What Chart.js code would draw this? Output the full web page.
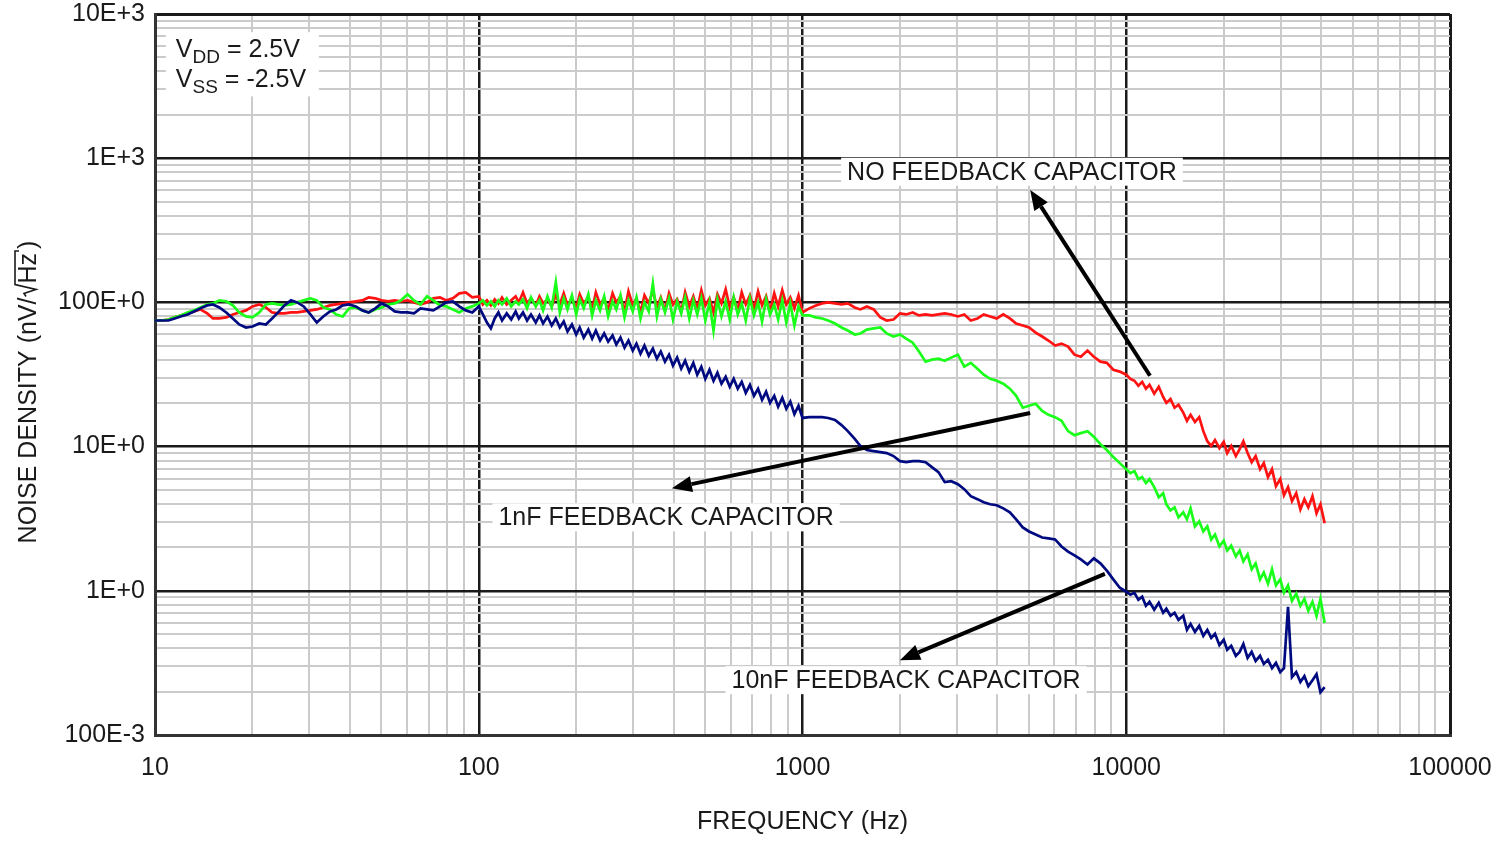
<!DOCTYPE html>
<html>
<head>
<meta charset="utf-8">
<script src="https://cdn.jsdelivr.net/npm/chart.js@4/dist/chart.umd.min.js"></script>
<style>
  html, body { margin: 0; padding: 0; background: #fff; }
  #wrap { width: 1510px; height: 841px; position: relative; }
</style>
</head>
<body>
<div id="wrap"><canvas id="noise-chart"></canvas></div>
<script>
// frequency points (Hz), shared by all three traces
var freqHz = [
  10, 10.5, 11, 11.5, 12, 12.6, 13.2, 13.8, 14.5, 15.1, 15.8, 16.6, 17.4, 18.2, 19.1, 20, 21, 22, 23, 24,
  25.1, 26.3, 27.5, 28.8, 30.2, 31.6, 33.1, 34.7, 36.3, 38, 39.8, 41.7, 43.7, 45.7, 47.9, 50.1, 52.5, 55, 57.5, 60.3,
  63.1, 66.1, 69.2, 72.4, 75.9, 79.4, 83.2, 87.1, 91.2, 95.5,
  100, 103, 106, 109, 112, 115, 118, 122, 126, 130, 133, 137, 141, 145, 150, 154, 158, 163, 168, 173,
  178, 183, 188, 194, 200, 205, 211, 218, 224, 230, 237, 244, 251, 259, 266, 274, 282, 290, 299, 307,
  316, 325, 335, 345, 355, 365, 376, 387, 398, 410, 422, 434, 447, 460, 473, 487, 501, 516, 531, 546,
  562, 579, 596, 613, 631, 649, 668, 688, 708, 729, 750, 772, 794, 818, 841, 866, 891, 917, 944, 972,
  1000, 1050, 1100, 1150, 1200, 1260, 1320, 1380, 1450, 1510, 1580, 1660, 1740, 1820, 1910, 2000, 2090, 2190, 2290, 2400,
  2510, 2630, 2750, 2880, 3020, 3160, 3310, 3470, 3630, 3800, 3980, 4170, 4370, 4570, 4790, 5010, 5250, 5500, 5750, 6030,
  6310, 6610, 6920, 7240, 7590, 7940, 8320, 8710, 9120, 9550,
  10000, 10300, 10600, 10900, 11200, 11500, 11800, 12200, 12600, 13000, 13300, 13700, 14100, 14500, 15000, 15400, 15800, 16300, 16800, 17300,
  17800, 18300, 18800, 19400, 20000, 20500, 21100, 21800, 22400, 23000, 23700, 24400, 25100, 25900, 26600, 27400, 28200, 29000, 29900, 30700,
  31600, 32500, 33500, 34500, 35500, 36500, 37600, 38700, 39800, 41000
];

// noise density, nV/rtHz
var noFeedback = [
  74.9, 74.9, 76.1, 78.7, 81.2, 83.9, 86.6, 89.4, 83.9, 77.4, 77.4, 78.7, 82.5, 85.2, 88.0, 93.8, 96.8, 92.3, 85.2, 83.9,
  83.9, 85.2, 85.2, 86.6, 88.0, 89.4, 92.3, 95.3, 96.8, 98.4, 100, 101.6, 103.3, 108.3, 106.7, 103.3, 101.6, 103.3, 101.6, 103.3,
  100, 96.8, 100, 106.7, 108.3, 103.3, 106.7, 115.6, 117.4, 108.3,
  110.1, 96.8, 103.3, 95.3, 105.0, 98.4, 108.3, 96.8, 103.3, 110.1, 100, 117.4, 98.4, 106.7, 95.3, 110.1, 98.4, 105.0, 93.8, 111.9,
  96.8, 115.6, 95.3, 106.7, 90.9, 113.7, 98.4, 108.3, 89.4, 117.4, 96.8, 106.7, 88.0, 115.6, 100, 110.1, 86.6, 119.3, 95.3, 106.7,
  85.2, 111.9, 98.4, 121.3, 92.3, 108.3, 88.0, 115.6, 96.8, 105.0, 86.6, 117.4, 93.8, 110.1, 89.4, 121.3, 95.3, 106.7, 85.2, 113.7,
  98.4, 123.2, 92.3, 108.3, 88.0, 117.4, 96.8, 111.9, 89.4, 119.3, 95.3, 110.1, 86.6, 115.6, 93.8, 121.3, 96.8, 108.3, 90.9, 111.9,
  85.2, 90.9, 95.3, 98.4, 100, 98.4, 96.8, 98.4, 92.3, 89.4, 93.8, 89.4, 78.7, 74.9, 76.1, 83.9, 82.5, 85.2, 81.2, 82.5,
  81.2, 82.5, 83.9, 82.5, 79.9, 82.5, 74.9, 77.4, 82.5, 79.9, 77.4, 82.5, 77.4, 71.4, 69.2, 67.0, 61.8, 58.0, 54.4, 50.2,
  51.8, 49.4, 43.4, 42.0, 46.3, 42.0, 38.8, 38.1, 34.1, 33.1,
  31.5, 29.5, 28.6, 26.4, 28.1, 25.2, 26.8, 23.3, 26.0, 22.1, 20.1, 21.4, 18.6, 19.5, 17.2, 15.1, 16.6, 14.8, 16.0, 12.8,
  10.9, 10.1, 11.1, 9.77, 10.8, 9.02, 10.1, 8.60, 9.61, 10.9, 9.02, 7.80, 8.60, 6.97, 7.68, 6.14, 6.97, 5.31, 5.95, 4.60,
  5.23, 4.18, 4.75, 3.67, 4.32, 3.79, 4.53, 3.45, 3.98, 2.94
];

var cap1nF = [
  74.9, 74.9, 76.1, 78.7, 81.2, 85.2, 88.0, 92.3, 96.8, 98.4, 103.3, 101.6, 95.3, 85.2, 79.9, 78.7, 85.2, 96.8, 98.4, 96.8,
  95.3, 96.8, 100, 103.3, 106.7, 103.3, 92.3, 89.4, 82.5, 79.9, 90.9, 92.3, 88.0, 85.2, 89.4, 92.3, 96.8, 98.4, 103.3, 113.7,
  103.3, 96.8, 110.1, 103.3, 95.3, 93.8, 89.4, 85.2, 90.9, 93.8,
  98.4, 103.3, 95.3, 101.6, 93.8, 103.3, 96.8, 106.7, 93.8, 101.6, 96.8, 105.0, 90.9, 108.3, 93.8, 103.3, 88.0, 110.1, 92.3, 138,
  85.2, 106.7, 89.4, 111.9, 82.5, 105.0, 90.9, 113.7, 81.2, 103.3, 88.0, 110.1, 79.9, 101.6, 89.4, 111.9, 78.7, 103.3, 86.6, 108.3,
  77.4, 100, 86.6, 135, 79.9, 105.0, 85.2, 106.7, 76.1, 101.6, 83.9, 108.3, 77.4, 103.3, 82.5, 106.7, 74.9, 100, 63.8, 105.0,
  79.9, 101.6, 76.1, 108.3, 82.5, 98.4, 74.9, 106.7, 81.2, 100, 73.7, 105.0, 82.5, 96.8, 76.1, 103.3, 72.5, 98.4, 69.2, 93.8,
  81.2, 81.2, 78.7, 77.4, 74.9, 71.4, 67.0, 63.8, 59.9, 60.9, 64.8, 66.0, 67.0, 60.9, 58.0, 59.9, 56.1, 52.6, 45.6, 38.8,
  40.1, 40.7, 39.4, 41.4, 43.4, 35.8, 38.1, 34.7, 31.5, 29.5, 28.6, 27.3, 25.2, 22.5, 18.6, 19.2, 19.8, 17.7, 16.6, 16.0,
  15.1, 12.8, 12.0, 12.4, 12.8, 11.7, 10.4, 9.46, 8.46, 7.68,
  6.97, 6.54, 6.76, 5.95, 6.14, 5.58, 5.95, 5.23, 4.46, 4.75, 3.98, 3.61, 3.79, 3.23, 3.50, 3.13, 3.73, 2.80, 3.03, 2.58,
  2.80, 2.27, 2.46, 2.03, 2.23, 1.90, 2.06, 1.73, 1.90, 1.60, 1.79, 1.41, 1.55, 1.20, 1.34, 1.12, 1.41, 1.09, 1.20, 0.969,
  1.09, 0.853, 0.954, 0.787, 0.880, 0.727, 0.839, 0.671, 0.880, 0.599
];

var cap10nF = [
  74.9, 74.9, 74.9, 77.4, 79.9, 82.5, 86.6, 90.9, 95.3, 96.8, 92.3, 85.2, 77.4, 70.3, 67.0, 68.1, 71.4, 70.3, 77.4, 85.2,
  95.3, 103.3, 100, 93.8, 82.5, 72.5, 79.9, 86.6, 89.4, 95.3, 96.8, 93.8, 88.0, 85.2, 90.9, 98.4, 93.8, 86.6, 85.2, 85.2,
  83.9, 90.9, 89.4, 88.0, 93.8, 100, 101.6, 93.8, 88.0, 85.2,
  93.8, 82.5, 72.5, 66.0, 77.4, 85.2, 74.9, 83.9, 76.1, 86.6, 77.4, 85.2, 74.9, 82.5, 72.5, 81.2, 71.4, 79.9, 69.2, 77.4,
  67.0, 73.7, 62.8, 70.3, 59.9, 67.0, 57.0, 64.8, 56.1, 63.8, 54.4, 60.9, 53.5, 58.9, 51.0, 57.0, 48.6, 54.4, 46.3, 51.8,
  44.1, 50.2, 42.7, 47.8, 40.7, 45.6, 38.8, 43.4, 36.4, 41.4, 34.7, 39.4, 33.1, 38.1, 31.5, 35.8, 29.5, 34.1, 28.6, 32.5,
  27.3, 30.5, 26.0, 29.5, 25.2, 28.1, 23.6, 26.8, 22.5, 25.2, 21.1, 24.0, 20.1, 22.5, 18.9, 21.8, 18.3, 20.5, 16.8, 19.2,
  15.8, 16.0, 16.0, 16.0, 15.8, 15.3, 14.1, 12.8, 11.3, 10.1, 9.46, 9.31, 9.16, 9.02, 8.60, 7.93, 7.80, 7.93, 7.93, 7.80,
  7.20, 6.65, 5.67, 5.76, 5.49, 5.07, 4.53, 4.32, 4.11, 3.98, 3.92, 3.73, 3.50, 3.13, 2.75, 2.58, 2.46, 2.34, 2.31, 2.27,
  2.03, 1.87, 1.76, 1.65, 1.52, 1.68, 1.55, 1.38, 1.20, 1.05,
  0.985, 0.939, 0.969, 0.866, 0.909, 0.787, 0.839, 0.739, 0.825, 0.704, 0.751, 0.671, 0.704, 0.629, 0.671, 0.536, 0.590, 0.519, 0.571, 0.487,
  0.536, 0.471, 0.503, 0.420, 0.457, 0.390, 0.415, 0.354, 0.377, 0.427, 0.342, 0.377, 0.326, 0.354, 0.311, 0.332, 0.291, 0.316, 0.273, 0.291,
  0.775, 0.252, 0.273, 0.233, 0.256, 0.218, 0.240, 0.264, 0.198, 0.215
];

// axes
var xGrid = [10, 20, 30, 40, 50, 60, 70, 80, 90, 100, 200, 300, 400, 500, 600, 700, 800, 900,
  1000, 2000, 3000, 4000, 5000, 6000, 7000, 8000, 9000, 10000, 20000, 30000, 40000, 50000, 60000, 70000, 80000, 90000, 100000];
var yGrid = [0.1, 0.2, 0.3, 0.4, 0.5, 0.6, 0.7, 0.8, 0.9, 1, 2, 3, 4, 5, 6, 7, 8, 9,
  10, 20, 30, 40, 50, 60, 70, 80, 90, 100, 200, 300, 400, 500, 600, 700, 800, 900,
  1000, 2000, 3000, 4000, 5000, 6000, 7000, 8000, 9000, 10000];
var xTickValues = [10, 100, 1000, 10000, 100000];
var xTickLabels = ['10', '100', '1000', '10000', '100000'];
var yTickValues = [0.1, 1, 10, 100, 1000, 10000];
var yTickLabels = ['100E-3', '1E+0', '10E+0', '100E+0', '1E+3', '10E+3'];

// annotations (data coordinates)
var noteText = ['NO FEEDBACK CAPACITOR', '1nF FEEDBACK CAPACITOR', '10nF FEEDBACK CAPACITOR'];
var noteFreq = [4436, 379, 2089];
var noteLevel = [806, 3.23, 0.24];
var arrowFrom = [[11840, 31], [5050, 17.1], [8590, 1.31]];
var arrowTo = [[5050, 603], [395, 5.14], [2000, 0.33]];
var supplyFreq = 11.6;
var supplyLevel = [5700, 3520];

var FONT = '"Liberation Sans", Arial, sans-serif';
Chart.defaults.font.family = FONT;

function pts(vals) {
  return freqHz.map(function(f, i) { return { x: f, y: vals[i] }; });
}

function gridColor(list) {
  return function(ctx) {
    if (!ctx.tick) return '#ccc';
    return list.indexOf(ctx.tick.value) >= 0 ? '#1a1a1a' : '#cbcbcb';
  };
}
function gridWidth(list) {
  return function(ctx) {
    if (!ctx.tick) return 2;
    var v = ctx.tick.value;
    if (v === list[0] || v === list[list.length - 1]) return 3;
    return list.indexOf(v) >= 0 ? 2.5 : 2;
  };
}

function drawArrow(ctx, x1, y1, x2, y2) {
  var a = Math.atan2(y2 - y1, x2 - x1);
  var len = 20, half = 8;
  var bx = x2 - len * Math.cos(a), by = y2 - len * Math.sin(a);
  ctx.strokeStyle = '#000';
  ctx.fillStyle = '#000';
  ctx.lineWidth = 4;
  ctx.beginPath();
  ctx.moveTo(x1, y1);
  ctx.lineTo(bx, by);
  ctx.stroke();
  ctx.beginPath();
  ctx.moveTo(x2, y2);
  ctx.lineTo(bx + half * Math.sin(a), by - half * Math.cos(a));
  ctx.lineTo(bx - half * Math.sin(a), by + half * Math.cos(a));
  ctx.closePath();
  ctx.fill();
}

var overlay = {
  id: 'overlay',
  afterDatasetsDraw: function(chart) {
    var ctx = chart.ctx, xs = chart.scales.x, ys = chart.scales.y;
    ctx.save();

    // curve labels on white boxes
    ctx.font = '25px ' + FONT;
    ctx.textAlign = 'center';
    ctx.textBaseline = 'middle';
    noteText.forEach(function(t, i) {
      var cx = xs.getPixelForValue(noteFreq[i]);
      var cy = ys.getPixelForValue(noteLevel[i]);
      var w = ctx.measureText(t).width;
      ctx.fillStyle = '#fff';
      ctx.fillRect(cx - w / 2 - 6, cy - 14, w + 12, 28);
      ctx.fillStyle = '#1a1a1a';
      ctx.fillText(t, cx, cy + 1);
    });

    arrowFrom.forEach(function(p, i) {
      drawArrow(ctx,
        xs.getPixelForValue(p[0]), ys.getPixelForValue(p[1]),
        xs.getPixelForValue(arrowTo[i][0]), ys.getPixelForValue(arrowTo[i][1]));
    });

    // supply voltages
    var sx = xs.getPixelForValue(supplyFreq);
    var lines = [['V', 'DD', ' = 2.5V'], ['V', 'SS', ' = -2.5V']];
    ctx.textAlign = 'left';
    ctx.textBaseline = 'alphabetic';
    var boxTop = ys.getPixelForValue(supplyLevel[0]) - 17;
    var boxBot = ys.getPixelForValue(supplyLevel[1]) + 17;
    ctx.fillStyle = '#fff';
    ctx.fillRect(sx - 10, boxTop, 153, boxBot - boxTop);
    ctx.fillStyle = '#1a1a1a';
    lines.forEach(function(parts, i) {
      var by = ys.getPixelForValue(supplyLevel[i]) + 8;
      var px = sx;
      ctx.font = '25px ' + FONT;
      ctx.fillText(parts[0], px, by);
      px += ctx.measureText(parts[0]).width;
      ctx.font = '19px ' + FONT;
      ctx.fillText(parts[1], px, by + 6);
      px += ctx.measureText(parts[1]).width;
      ctx.font = '25px ' + FONT;
      ctx.fillText(parts[2], px, by);
    });
    ctx.restore();
  },
  afterDraw: function(chart) {
    // y title with a drawn radical over Hz
    var ctx = chart.ctx;
    ctx.save();
    ctx.translate(27, chart.chartArea.top + 378);
    ctx.rotate(-Math.PI / 2);
    ctx.font = '25px ' + FONT;
    ctx.fillStyle = '#1a1a1a';
    ctx.strokeStyle = '#1a1a1a';
    ctx.textBaseline = 'alphabetic';
    ctx.textAlign = 'left';
    var a = 'NOISE DENSITY (nV/', b = 'Hz', c = ')';
    var wa = ctx.measureText(a).width, wb = ctx.measureText(b).width, wc = ctx.measureText(c).width;
    var wr = 14;
    var total = wa + wr + wb + 4 + wc;
    var px = -total / 2;
    var base = 9;
    ctx.fillText(a, px, base);
    px += wa;
    ctx.lineWidth = 1.6;
    ctx.beginPath();
    ctx.moveTo(px + 1, -1);
    ctx.lineTo(px + 4, -3);
    ctx.lineTo(px + 8, base);
    ctx.lineTo(px + 13, -12);
    ctx.lineTo(px + 13 + wb + 3, -12);
    ctx.lineTo(px + 13 + wb + 3, -8);
    ctx.stroke();
    px += wr;
    ctx.fillText(b, px, base);
    px += wb + 4;
    ctx.fillText(c, px, base);
    ctx.restore();
  }
};

new Chart(document.getElementById('noise-chart'), {
  type: 'line',
  data: {
    datasets: [{
      label: 'No feedback capacitor',
      data: pts(noFeedback),
      borderColor: '#ff1212',
      borderWidth: 2.7,
      pointRadius: 0,
      order: 3
    }, {
      label: '1nF feedback capacitor',
      data: pts(cap1nF),
      borderColor: '#19ff19',
      borderWidth: 2.7,
      pointRadius: 0,
      order: 2
    }, {
      label: '10nF feedback capacitor',
      data: pts(cap10nF),
      borderColor: '#000a80',
      borderWidth: 2.7,
      pointRadius: 0,
      order: 1
    }]
  },
  options: {
    responsive: true,
    maintainAspectRatio: false,
    animation: false,
    devicePixelRatio: 1,
    layout: { padding: { left: 0, right: 60, top: 14, bottom: 0 } },
    plugins: {
      legend: { display: false },
      tooltip: { enabled: false }
    },
    scales: {
      x: {
        type: 'logarithmic',
        min: 10,
        max: 100000,
        afterBuildTicks: function(axis) {
          axis.ticks = xGrid.map(function(v) { return { value: v }; });
        },
        afterFit: function(axis) { axis.height = 106; },
        ticks: {
          autoSkip: false,
          maxRotation: 0,
          padding: 18,
          color: '#1a1a1a',
          font: { size: 25 },
          callback: function(v) {
            var i = xTickValues.indexOf(v);
            return i >= 0 ? xTickLabels[i] : '';
          }
        },
        grid: { color: gridColor(xTickValues), lineWidth: gridWidth(xTickValues), drawTicks: false },
        border: { display: true, color: '#333', width: 3 },
        title: {
          display: true,
          text: 'FREQUENCY (Hz)',
          color: '#1a1a1a',
          font: { size: 25 },
          padding: { top: 0, bottom: 4 }
        }
      },
      y: {
        type: 'logarithmic',
        min: 0.1,
        max: 10000,
        afterBuildTicks: function(axis) {
          axis.ticks = yGrid.map(function(v) { return { value: v }; });
        },
        afterFit: function(axis) { axis.width = 155; },
        ticks: {
          autoSkip: false,
          padding: 10,
          color: '#1a1a1a',
          font: { size: 25, lineHeight: 0.3 },
          callback: function(v) {
            var i = yTickValues.indexOf(v);
            return i >= 0 ? yTickLabels[i] : '';
          }
        },
        grid: { color: gridColor(yTickValues), lineWidth: gridWidth(yTickValues), drawTicks: false },
        border: { display: true, color: '#333', width: 3 }
      }
    }
  },
  plugins: [overlay]
});
</script>
</body>
</html>
